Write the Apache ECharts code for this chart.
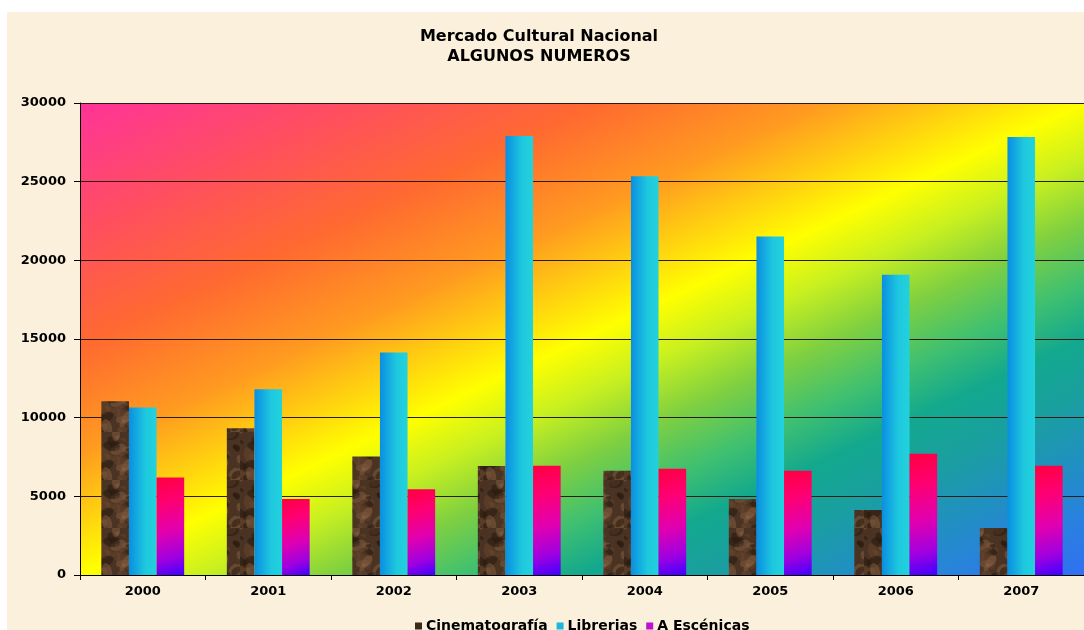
<!DOCTYPE html>
<html>
<head>
<meta charset="utf-8">
<script src="https://cdn.jsdelivr.net/npm/echarts@6/dist/echarts.min.js"></script>
<style>
html,body{margin:0;padding:0;background:#fff;}
#chart{width:1084px;height:630px;}
</style>
</head>
<body>
<div id="chart"></div>
<script>
const years = ['2000','2001','2002','2003','2004','2005','2006','2007'];
const cinematografia = [11050, 9330, 7530, 6930, 6620, 4830, 4130, 2990];
const librerias = [10640, 11810, 14140, 27900, 25340, 21520, 19080, 27840];
const escenicas = [6190, 4830, 5450, 6950, 6750, 6620, 7700, 6950];
const seriesNames = ['Cinematografía', 'Librerias', 'A Escénicas'];
const yTicks = [0, 5000, 10000, 15000, 20000, 25000, 30000];

// deterministic brown marble texture
function makeMarble() {
  const c = document.createElement('canvas');
  c.width = 48; c.height = 48;
  const g = c.getContext('2d');
  g.fillStyle = '#4a3322';
  g.fillRect(0, 0, 48, 48);
  for (let i = 0; i < 40; i++) {
    const x = (Math.sin(i * 12.9898) * 43758.5453) % 1;
    const y = (Math.sin(i * 78.233) * 12543.123) % 1;
    const px = Math.abs(x) * 48, py = Math.abs(y) * 48;
    const r = 2 + (i % 5);
    g.fillStyle = i % 3 === 0 ? 'rgba(140,100,70,0.45)' : (i % 3 === 1 ? 'rgba(40,25,15,0.55)' : 'rgba(110,75,50,0.4)');
    g.beginPath();
    g.ellipse(px, py, r * 1.4, r * 0.8, i, 0, Math.PI * 2);
    g.fill();
  }
  return c;
}

const chart = echarts.init(document.getElementById('chart'), null, {renderer: 'canvas'});
const font = '"DejaVu Sans", Verdana, sans-serif';

// plot area size, used so that the colour bands run corner to corner
const gridL = 80, gridR = 0, gridT = 103, gridB = 55;
const W = 1084 - gridL - gridR, H = 630 - gridT - gridB;
const L2 = W * W + H * H;
const gx0 = 0.5 - H * H / L2, gy0 = 0.5 - W * W / L2;
const gx1 = 1 - gx0, gy1 = 1 - gy0;

const option = {
  backgroundColor: '#ffffff',
  animation: false,
  graphic: [{
    type: 'rect', z: -10, silent: true,
    shape: {x: 7, y: 12, width: 1077, height: 618},
    style: {fill: '#fbf0db'}
  }],
  title: {
    text: 'Mercado Cultural Nacional\nALGUNOS NUMEROS',
    left: 534, top: 22, textAlign: 'center',
    textStyle: {fontFamily: font, fontSize: 16, fontWeight: 'bold', color: '#000', lineHeight: 20}
  },
  legend: {
    left: 410,
    top: 614,
    itemWidth: 7, itemHeight: 7, itemGap: 9,
    icon: 'rect',
    textStyle: {fontFamily: font, fontSize: 14, fontWeight: 'bold', color: '#000', padding: [0, 0, 0, -1]},
    data: [
      {name: seriesNames[0], itemStyle: {color: '#3a2a1c'}},
      {name: seriesNames[1], itemStyle: {color: '#1ab8dc'}},
      {name: seriesNames[2], itemStyle: {color: '#c010d0'}}
    ]
  },
  grid: {
    left: gridL, right: gridR, top: gridT, bottom: gridB,
    show: true, borderWidth: 0,
    backgroundColor: {
      type: 'linear', x: gx0, y: gy0, x2: gx1, y2: gy1,
      colorStops: [
        {offset: 0, color: '#ff3399'},
        {offset: 0.14, color: '#ff4f5e'},
        {offset: 0.26, color: '#ff6a30'},
        {offset: 0.37, color: '#ff9a20'},
        {offset: 0.44, color: '#ffd010'},
        {offset: 0.5, color: '#ffff00'},
        {offset: 0.56, color: '#c8f020'},
        {offset: 0.625, color: '#80d040'},
        {offset: 0.69, color: '#40c070'},
        {offset: 0.75, color: '#12a88e'},
        {offset: 0.81, color: '#1a9fa0'},
        {offset: 0.875, color: '#2090c0'},
        {offset: 0.94, color: '#2a80e0'},
        {offset: 1, color: '#3070f0'}
      ]
    }
  },
  xAxis: {
    type: 'category',
    data: years,
    axisLine: {show: true, lineStyle: {color: '#000', width: 1}},
    axisTick: {show: true, length: 5, lineStyle: {color: '#000'}},
    axisLabel: {fontFamily: font, fontSize: 13, fontWeight: 'bold', color: '#000', margin: 10}
  },
  yAxis: {
    type: 'value',
    min: 0, max: 30000, interval: 5000,
    axisLine: {show: true, lineStyle: {color: '#000', width: 1}},
    axisTick: {show: true, length: 6, lineStyle: {color: '#000'}},
    axisLabel: {fontFamily: font, fontSize: 13, fontWeight: 'bold', color: '#000', margin: 14,
      formatter: v => yTicks.includes(v) ? String(v) : ''},
    splitLine: {show: true, lineStyle: {color: '#2a1e14', width: 1}}
  },
  series: [
    {
      name: seriesNames[0], type: 'bar', data: cinematografia,
      barGap: '0%', barCategoryGap: '34%',
      itemStyle: {color: {image: makeMarble(), repeat: 'repeat'}}
    },
    {
      name: seriesNames[1], type: 'bar', data: librerias,
      barGap: '0%', barCategoryGap: '34%',
      itemStyle: {color: {
        type: 'linear', x: 0, y: 0, x2: 1, y2: 0,
        colorStops: [
          {offset: 0, color: '#0a8ee2'},
          {offset: 0.6, color: '#1ec8de'},
          {offset: 1, color: '#22d2dc'}
        ]
      }}
    },
    {
      name: seriesNames[2], type: 'bar', data: escenicas,
      barGap: '0%', barCategoryGap: '34%',
      itemStyle: {color: {
        type: 'linear', x: 0, y: 0, x2: 1, y2: 1,
        colorStops: [
          {offset: 0, color: '#ff0040'},
          {offset: 0.25, color: '#ff0070'},
          {offset: 0.55, color: '#e000b0'},
          {offset: 0.8, color: '#a000e0'},
          {offset: 1, color: '#4000ff'}
        ]
      }}
    }
  ]
};
chart.setOption(option);
</script>
</body>
</html>
